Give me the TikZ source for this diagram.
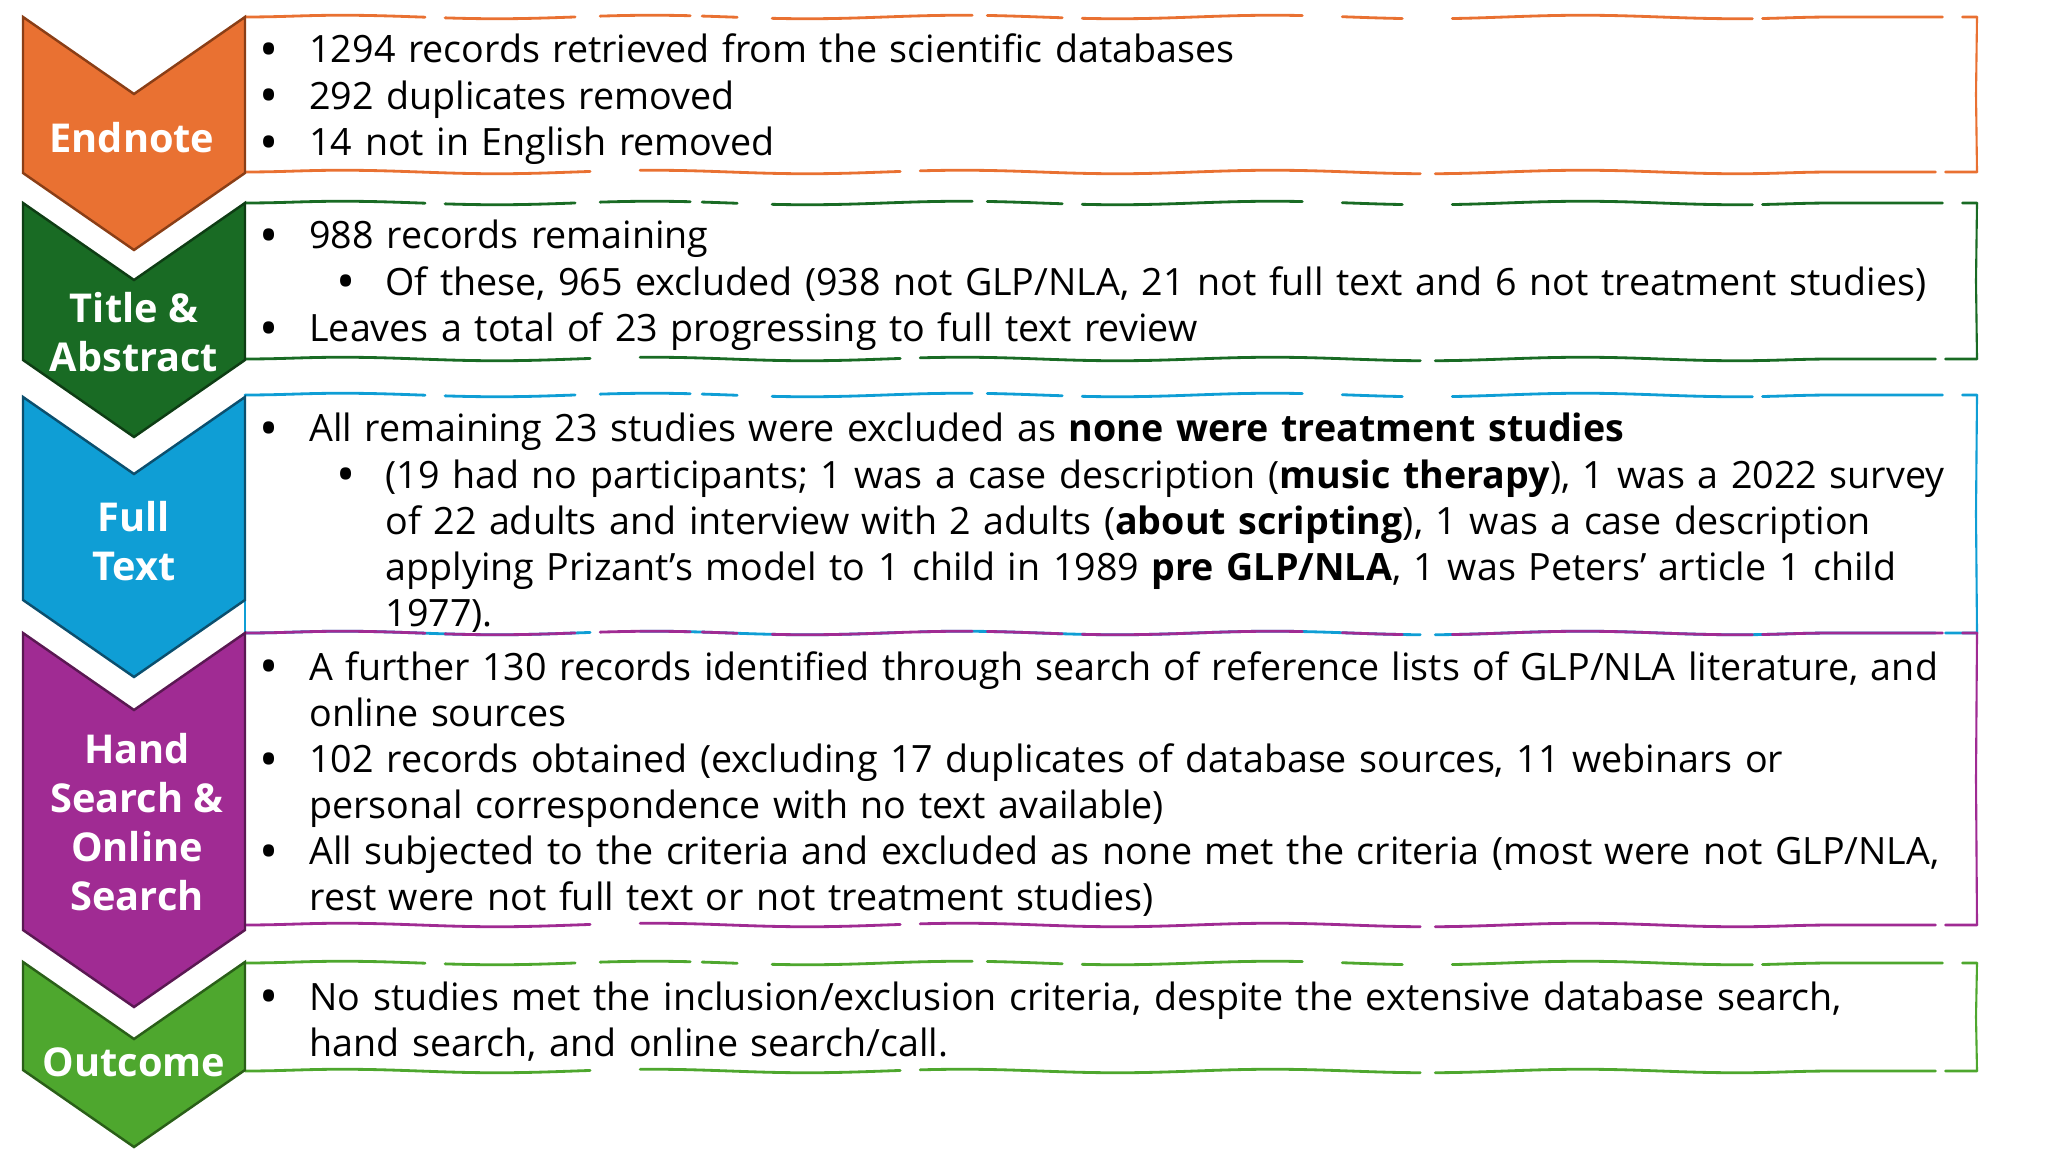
\documentclass[tikz,border=0pt]{standalone}
\usepackage{fontspec}
\usepackage{graphicx}
\setmainfont{Open Sans}
\usetikzlibrary{decorations.pathmorphing}
\definecolor{cOrange}{HTML}{E97132}
\definecolor{cOrangeD}{HTML}{8A3E16}
\definecolor{cDGreen}{HTML}{196B24}
\definecolor{cDGreenD}{HTML}{0E3D14}
\definecolor{cBlue}{HTML}{0F9ED5}
\definecolor{cBlueD}{HTML}{0B4F6E}
\definecolor{cPurple}{HTML}{A02B93}
\definecolor{cPurpleD}{HTML}{5A1852}
\definecolor{cLGreen}{HTML}{4EA72E}
\definecolor{cLGreenD}{HTML}{2A5F18}
\newcommand{\bdot}{\raisebox{-1.4pt}{\scalebox{1.35}{\textbullet}}}
\newcommand{\bitem}[1]{\noindent\hangindent=0.5cm\hangafter=1\makebox[0.5cm][l]{\bdot}#1\par}
\newcommand{\sitem}[1]{\noindent\hangindent=1.26cm\hangafter=1\hspace*{0.77cm}\makebox[0.49cm][l]{\bdot}#1\par}

\begin{document}
\begin{tikzpicture}[x=0.01cm,y=-0.01cm,line width=0.8pt,
  lbl/.style={text=white,font=\bfseries\fontsize{11.3}{13.9}\selectfont,align=center,inner sep=0pt},
  txt/.style={anchor=base west,inner sep=0pt,text width=18cm,align=left,font=\fontsize{10.7}{13.1}\selectfont},
  rough/.style={line width=0.8pt,line cap=round,decorate,decoration={snake,amplitude=0.5pt,segment length=3.1cm}},
  toppat/.style={dash pattern=on 1.8cm off 0.2cm on 1.3cm off 0.25cm on 0.9cm off 0.12cm on 0.35cm off 0.35cm on 2cm off 0.15cm on 0.75cm off 0.2cm on 2.2cm off 0.4cm on 0.6cm off 0.5cm on 3cm off 0.1cm},
  botpat/.style={dash pattern=on 3.45cm off 0.5cm on 2.6cm off 0.2cm on 5cm off 0.15cm on 5cm off 0.1cm}]
\useasboundingbox (0,0) rectangle (2048,1152);
% ---------- sketched boxes ----------
\foreach \t/\b/\c in {17/172/cOrange,203/359/cDGreen,395/633/cBlue,633/925/cPurple,963/1071/cLGreen}{
  \draw[rough,toppat,\c] (245,\t) -- (1977,\t);
  \draw[rough,botpat,\c] (245,\b) -- (1977,\b);
  \draw[\c,line width=0.6pt] (1977,\t) -- (1976,{(\t+\b)/2}) -- (1977,\b);
  \draw[\c,line width=0.6pt] (245,\t) -- (245,\b);
}
% ---------- chevrons ----------
\foreach \t/\b/\fc/\dc in {17/173/cOrange/cOrangeD,203/360/cDGreen/cDGreenD,397/600/cBlue/cBlueD,633/930/cPurple/cPurpleD,962/1070/cLGreen/cLGreenD}{
  \filldraw[fill=\fc,draw=\dc,line width=0.7pt] (23,\t) -- (134,{\t+77}) -- (245,\t) -- (245,\b) -- (134,{\b+77}) -- (23,\b) -- cycle;
}
\node[lbl] (endnote) at (132,138) {Endnote};
\node[lbl] (titleabs) at (134,332) {Title \&\\Abstract};
\node[lbl] (fulltext) at (134,541) {Full\\Text};
\node[lbl] (handsearch) at (137,822) {Hand\\Search \&\\Online\\Search};
\node[lbl] (outcome) at (134,1062) {Outcome};
% ---------- box texts ----------
\node[txt] (endnotetxt) at (258,63) {%
  \bitem{1294 records retrieved from the scientific databases}
  \bitem{292 duplicates removed}
  \bitem{14 not in English removed}};
\node[txt] (titleabstxt) at (258,249) {%
  \bitem{988 records remaining}
  \sitem{Of these, 965 excluded (938 not GLP/NLA, 21 not full text and 6 not treatment studies)}
  \bitem{Leaves a total of 23 progressing to full text review}};
\node[txt] (fulltexttxt) at (258,442) {%
  \bitem{All remaining 23 studies were excluded as \textbf{none were treatment studies}}
  \sitem{(19 had no participants; 1 was a case description (\textbf{music therapy}), 1 was a 2022 survey\newline
    of 22 adults and interview with 2 adults (\textbf{about scripting}), 1 was a case description\newline
    applying Prizant’s model to 1 child in 1989 \textbf{pre GLP/NLA}, 1 was Peters’ article 1 child\newline
    1977).}};
\node[txt] (handsearchtxt) at (258,680) {%
  \bitem{A further 130 records identified through search of reference lists of GLP/NLA literature, and\newline online sources}
  \bitem{102 records obtained (excluding 17 duplicates of database sources, 11 webinars or\newline personal correspondence with no text available)}
  \bitem{All subjected to the criteria and excluded as none met the criteria (most were not GLP/NLA,\newline rest were not full text or not treatment studies)}};
\node[txt] (outcometxt) at (258,1010) {%
  \bitem{No studies met the inclusion/exclusion criteria, despite the extensive database search,\newline hand search, and online search/call.}};
\end{tikzpicture}
\end{document}
